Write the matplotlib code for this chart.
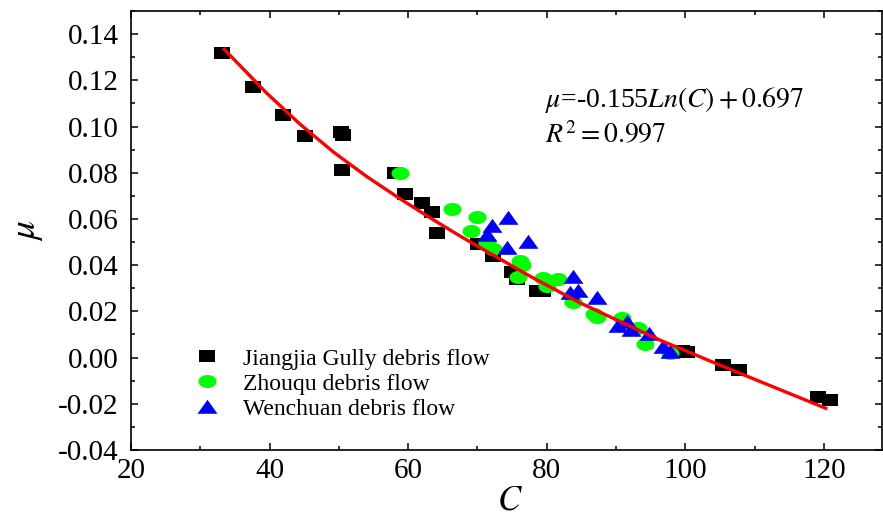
#Friction coefficient mu vs C for three debris flow datasets, with the log fit curve

import numpy as np
import matplotlib
matplotlib.use('Agg')
import matplotlib.pyplot as plt
from matplotlib.ticker import MultipleLocator, FormatStrFormatter

#Jiangjia Gully (black squares)
jj_C = [33.1, 37.6, 41.9, 45.1, 50.3, 50.6, 50.5, 58.1, 59.6, 62.0, 63.5, 64.2,
        70.1, 72.3, 75.0, 75.7, 78.6, 79.5, 99.5, 100.3, 105.5, 107.7, 119.2, 120.9]
jj_mu = [0.132, 0.117, 0.105, 0.096, 0.0978, 0.0965, 0.081, 0.080, 0.071, 0.067, 0.063, 0.054,
         0.049, 0.044, 0.037, 0.034, 0.029, 0.029, 0.0028, 0.0025, -0.003, -0.0055, -0.017, -0.0185]

#Zhouqu (green circles)
zq_C = [58.8, 66.4, 70.0, 69.0, 71.4, 72.3, 76.2, 76.5, 75.9, 79.5, 81.7, 80.1,
        83.8, 86.8, 87.3, 90.9, 93.2, 94.2, 97.8]
zq_mu = [0.080, 0.0643, 0.061, 0.055, 0.050, 0.047, 0.042, 0.040, 0.035, 0.0345, 0.034, 0.031,
         0.024, 0.019, 0.0175, 0.017, 0.013, 0.006, 0.002]

#Wenchuan (blue triangles)
wc_C = [71.4, 72.1, 74.4, 74.3, 77.3, 83.8, 83.4, 84.5, 87.3, 90.3, 91.6, 92.1, 94.7, 96.8, 97.8]
wc_mu = [0.053, 0.057, 0.0605, 0.0475, 0.050, 0.035, 0.028, 0.029, 0.026, 0.0135, 0.0155,
         0.012, 0.010, 0.0045, 0.0025]

#fit curve
fit_C = [33.3, 39.6, 44.4, 49.2, 54.0, 58.8, 63.6, 67.5, 77.6, 84.8, 96.4, 106.5, 120.5]
fit_mu = [0.1339, 0.1144, 0.1010, 0.0890, 0.0784, 0.0688, 0.0597, 0.0526, 0.0352, 0.0237,
          0.0075, -0.0051, -0.0222]

plt.rcParams['font.family'] = ['Liberation Serif', 'DejaVu Serif']
plt.rcParams['mathtext.fontset'] = 'stix'
plt.rcParams['axes.unicode_minus'] = False

#markers are a bit wider than tall in the original
t = np.linspace(0, 2 * np.pi, 40)
ellipse = list(zip(1.38 * np.cos(t), np.sin(t)))
rect = [(-1.33, -1), (1.33, -1), (1.33, 1), (-1.33, 1), (-1.33, -1)]
tri = [(-1.43, -0.9), (1.43, -0.9), (0, 1.1), (-1.43, -0.9)]

fig = plt.figure(figsize=(8.83, 5.2), dpi=100)
ax = fig.add_axes([0.1484, 0.1346, 0.8505, 0.8442])

ax.plot(jj_C, jj_mu, linestyle='none', marker=rect, markersize=11.5, color='black',
        markeredgewidth=0, label='Jiangjia Gully debris flow')
ax.plot(zq_C, zq_mu, linestyle='none', marker=ellipse, markersize=13, color='#00ff00',
        markeredgewidth=0, label='Zhouqu debris flow')
ax.plot(wc_C, wc_mu, linestyle='none', marker=tri, markersize=14.4, color='#0000ff',
        markeredgewidth=0, label='Wenchuan debris flow')
ax.plot(fit_C, fit_mu, color='#ff0000', linewidth=2.4, solid_capstyle='butt')

ax.set_xlim(20, 128.4)
ax.set_ylim(-0.04, 0.15)
ax.xaxis.set_major_locator(MultipleLocator(20))
ax.xaxis.set_minor_locator(MultipleLocator(10))
ax.yaxis.set_major_locator(MultipleLocator(0.02))
ax.yaxis.set_minor_locator(MultipleLocator(0.01))
ax.yaxis.set_major_formatter(FormatStrFormatter('%.2f'))
ax.set_yticks([0.14, 0.12, 0.10, 0.08, 0.06, 0.04, 0.02, 0.00, -0.02, -0.04])

ax.tick_params(which='both', direction='in', top=True, right=True, width=1.1)
ax.tick_params(which='major', length=5, labelsize=21)
ax.tick_params(axis='x', which='major', pad=6)
ax.tick_params(axis='y', which='major', pad=9)
ax.tick_params(which='minor', length=3)
for s in ax.spines.values():
    s.set_linewidth(1.2)

ax.set_xlabel(r'$C$', fontsize=25)
ax.set_ylabel(r'$\mu$', fontsize=27)
ax.xaxis.set_label_coords(0.505, -0.078)
ax.yaxis.set_label_coords(-0.115, 0.5)

ax.text(0.551, 0.797, r'$\mu$=-0.155$Ln(C)+0.697$', transform=ax.transAxes,
        fontsize=20, va='center', ha='left')
ax.text(0.551, 0.715, r'$R^2=0.997$', transform=ax.transAxes,
        fontsize=20, va='center', ha='left')

ax.legend(loc='upper left', bbox_to_anchor=(0.086, 0.232), frameon=False, fontsize=17,
          handlelength=1.0, handletextpad=1.0, labelspacing=0.15, borderpad=0,
          borderaxespad=0)

plt.savefig('out.png', dpi=100)
